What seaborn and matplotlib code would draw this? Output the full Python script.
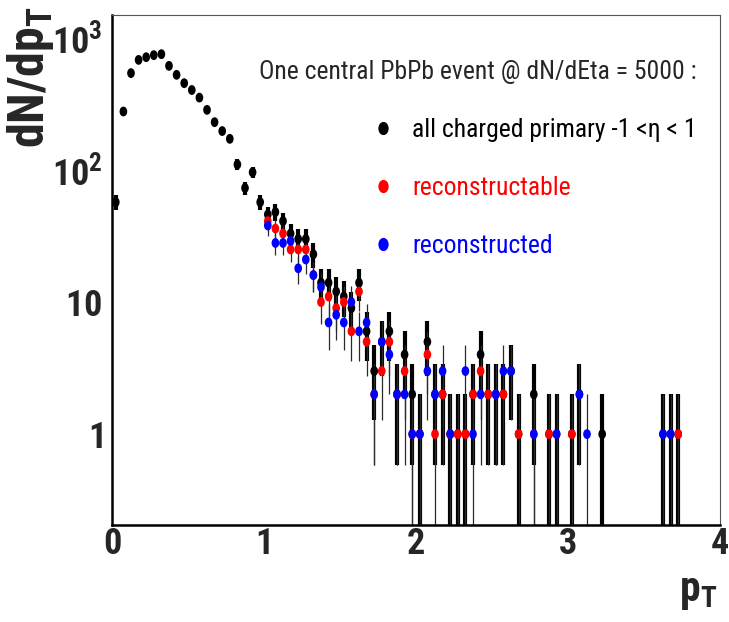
import numpy as np
import pandas as pd
import seaborn as sns
import matplotlib
matplotlib.use("Agg")
import matplotlib.pyplot as plt
from matplotlib import font_manager
from matplotlib.font_manager import FontProperties
from matplotlib.lines import Line2D
from matplotlib.path import Path
from matplotlib.transforms import Affine2D
from matplotlib.textpath import TextPath
from matplotlib.ticker import FixedLocator, MultipleLocator, LogLocator, NullFormatter

nan = np.nan

# ---------------- data ----------------
pt_bins = [0.025, 0.075, 0.125, 0.175, 0.225, 0.275, 0.325, 0.375, 0.425, 0.475,
           0.525, 0.575, 0.625, 0.675, 0.725, 0.775, 0.825, 0.875, 0.925, 0.975,
           1.025, 1.075, 1.125, 1.175, 1.225, 1.275, 1.325, 1.375, 1.425, 1.475,
           1.525, 1.575, 1.625, 1.675, 1.725, 1.775, 1.825, 1.875, 1.925, 1.975,
           2.025, 2.075, 2.125, 2.175, 2.225, 2.275, 2.325, 2.375, 2.425, 2.475,
           2.525, 2.575, 2.625, 2.675, 2.725, 2.775, 2.825, 2.875, 2.925, 2.975,
           3.025, 3.075, 3.125, 3.175, 3.225, 3.275, 3.325, 3.375, 3.425, 3.475,
           3.525, 3.575, 3.625, 3.675, 3.725]

n_all = [57, 277, 541, 681, 714, 740, 753, 614, 525, 454,
         403, 353, 285, 230, 197, 172, 110, 73, 96, 57,
         46, 48, 41, 33, 30, 30, 23, 14, 14, 12,
         11, 9, 14, 6, 3, 5, 6, 2, 4, 2,
         1, 5, 2, 2, 1, 1, 1, 2, 4, 2,
         2, 2, 3, 1, nan, 2, nan, 1, 1, nan,
         1, 2, nan, nan, 1, nan, nan, nan, nan, nan,
         nan, nan, 1, 1, 1]

n_reconstructable = [nan] * 20 + [
         41, 36, 33, 25, 25, 25, 16, 10, 11, 9,
         10, 6, 12, 5, 2, 3, 5, 2, 3, 1,
         1, 4, 1, 2, 1, 1, 1, 2, 3, 2,
         2, 2, nan, 1, nan, 1, nan, 1, nan, nan,
         1, nan, nan, nan, nan, nan, nan, nan, nan, nan,
         nan, nan, nan, nan, 1]

n_reconstructed = [nan] * 20 + [
         38, 28, 28, 29, 18, 21, 16, 13, 7, 8,
         7, 10, 6, 7, 2, 5, 4, 2, 2, 1,
         1, 3, 2, 3, 1, nan, 3, 1, 2, nan,
         2, 3, 3, nan, nan, 1, nan, nan, 1, nan,
         nan, 2, 1, nan, nan, nan, nan, nan, nan, nan,
         nan, nan, 1, 1, nan]

series_names = ["all charged primary -1 <\u03b7 < 1", "reconstructable", "reconstructed"]
series_colors = ["#000000", "#ff0000", "#0000ff"]
legend_title = "One central PbPb event @ dN/dEta = 5000 :"
x_ticks = [0, 1, 2, 3, 4]
x_tick_labels = ["0", "1", "2", "3", "4"]
y_ticks = [1, 10, 100, 1000]
y_tick_labels = [r"$\mathbf{1}$", r"$\mathbf{10}$", r"$\mathbf{10^{2}}$", r"$\mathbf{10^{3}}$"]
x_title = r"$\mathbf{p_{T}}$"
y_title = r"$\mathbf{dN/dp_{T}}$"

# ---------------- fonts ----------------
sns.set_style("white")
avail = {f.name for f in font_manager.fontManager.ttflist}
FONT = "Liberation Sans"
for cand in ["Liberation Sans Narrow", "Roboto Condensed", "Liberation Sans"]:
    if cand in avail:
        FONT = cand
        break
plt.rcParams["font.family"] = [FONT, "DejaVu Sans"]
plt.rcParams["mathtext.fontset"] = "custom"
plt.rcParams["mathtext.rm"] = FONT
plt.rcParams["mathtext.bf"] = FONT + ":bold"
plt.rcParams["mathtext.it"] = FONT + ":italic"
plt.rcParams["mathtext.sf"] = FONT

# legend font size chosen so the title spans ~434 px
w100 = TextPath((0, 0), legend_title, size=100, prop=FontProperties(family=FONT)).get_extents().width
legend_fs = 100 * (434 * 0.72) / w100

# ---------------- figure ----------------
fig = plt.figure(figsize=(7.29, 6.22), dpi=100)
ax = fig.add_axes([112 / 729, 97 / 622, 608 / 729, 510 / 622])
ax.set_yscale("log")

ell = Affine2D().scale(0.78, 1.0).transform_path(Path.unit_circle())

series_values = [n_all, n_reconstructable, n_reconstructed]
frames = []
for name, vals in zip(series_names, series_values):
    frames.append(pd.DataFrame({"pT": pt_bins, "count": vals, "series": name}))
df = pd.concat(frames, ignore_index=True).dropna()

# error bars (sqrt(N)), black thick, others thin
for i, (name, color) in enumerate(zip(series_names, series_colors)):
    d = df[df["series"] == name]
    n = d["count"].to_numpy()
    up = np.sqrt(n)
    lo = n - np.maximum(n - np.sqrt(n), 0.05)
    if i == 0:
        ax.errorbar(d["pT"], n, yerr=[lo, up], fmt="none", ecolor="black",
                    elinewidth=3.0, capsize=0, zorder=2)
    else:
        ax.errorbar(d["pT"], n, yerr=[lo, up], fmt="none", ecolor="#2a2a2a",
                    elinewidth=0.9, capsize=0, zorder=2.2)

sns.scatterplot(data=df, x="pT", y="count", hue="series", hue_order=series_names,
                palette=dict(zip(series_names, series_colors)), marker=ell, s=50,
                linewidth=0, legend=False, ax=ax, zorder=3)

ax.set_xlim(0, 4)
ax.set_ylim(0.205, 1490)

ax.xaxis.set_major_locator(FixedLocator(x_ticks))
ax.set_xticklabels(x_tick_labels, fontweight="bold")
ax.xaxis.set_minor_locator(MultipleLocator(0.5))
ax.yaxis.set_major_locator(FixedLocator(y_ticks))
ax.set_yticklabels(y_tick_labels)
ax.yaxis.set_minor_locator(LogLocator(base=10, subs=[2, 3, 4, 5, 6, 7, 8, 9], numticks=20))
ax.yaxis.set_minor_formatter(NullFormatter())

ax.tick_params(which="both", direction="in", top=False, right=False, color="black")
ax.tick_params(which="major", length=12, width=1.4)
ax.tick_params(which="minor", length=6, width=1.2)
ax.tick_params(axis="x", which="major", labelsize=26, pad=1)
ax.tick_params(axis="y", which="major", labelsize=26, pad=7)

for s in ["left", "bottom"]:
    ax.spines[s].set_linewidth(1.8)
    ax.spines[s].set_color("black")
for s in ["top", "right"]:
    ax.spines[s].set_linewidth(0.8)
    ax.spines[s].set_color("#555555")

ax.set_xlabel(x_title, fontsize=30, loc="right")
ax.xaxis.set_label_coords(0.995, -0.09)
ax.set_ylabel(y_title, fontsize=36, loc="top")
ax.yaxis.set_label_coords(-0.092, 1.018)

handles = [Line2D([], [], linestyle="none", marker=ell, markersize=9.5,
                  markerfacecolor=c, markeredgewidth=0) for c in series_colors]
leg = ax.legend(handles, series_names, title=legend_title, loc="upper right",
                bbox_to_anchor=((697 - 112) / 608, (525 - 60) / 510),
                frameon=False, fontsize=legend_fs, title_fontsize=legend_fs,
                alignment="right", borderpad=0, borderaxespad=0,
                handlelength=0.5, handletextpad=0.9, labelspacing=1.33)
for t, c in zip(leg.get_texts(), series_colors):
    t.set_color(c)

fig.savefig("out.png", dpi=100)
